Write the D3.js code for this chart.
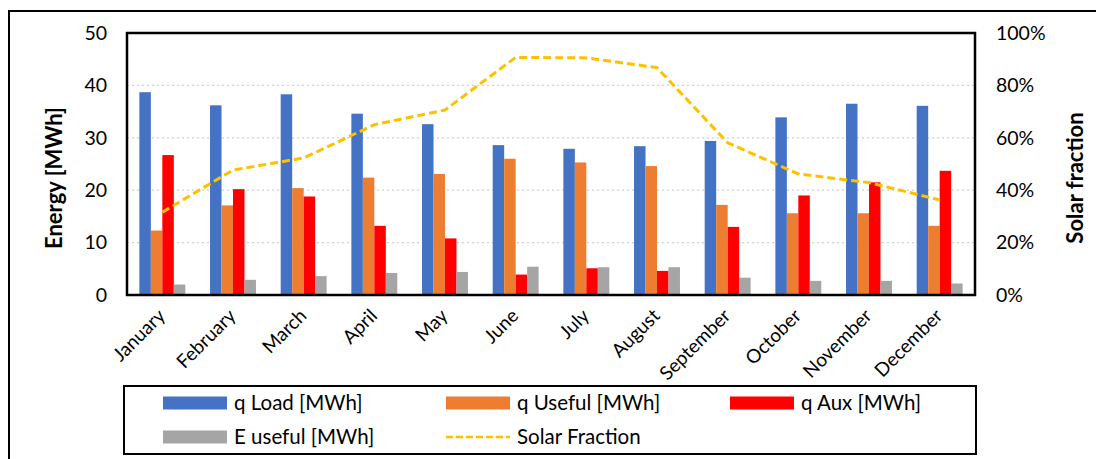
<!DOCTYPE html>
<html>
<head>
<meta charset="utf-8">
<script src="https://cdn.jsdelivr.net/npm/d3@7"></script>
<style>
  html, body { margin: 0; padding: 0; background: #fff; }
  svg { display: block; font-family: Lato, "Open Sans", sans-serif; }
</style>
</head>
<body>
<svg id="chart" width="1096" height="459"></svg>
<script>
// Monthly energy balance of the solar system
const months = ["January", "February", "March", "April", "May", "June",
                "July", "August", "September", "October", "November", "December"];
const qLoad   = [38.7, 36.2, 38.3, 34.6, 32.6, 28.6, 27.9, 28.4, 29.4, 33.9, 36.5, 36.1];
const qUseful = [12.3, 17.1, 20.4, 22.4, 23.1, 26.0, 25.3, 24.6, 17.2, 15.6, 15.6, 13.2];
const qAux    = [26.7, 20.2, 18.8, 13.2, 10.8,  3.9,  5.1,  4.6, 13.0, 19.0, 21.5, 23.7];
const eUseful = [ 2.0,  2.9,  3.6,  4.2,  4.4,  5.4,  5.3,  5.3,  3.3,  2.7,  2.7,  2.2];
const solarFraction = [0.316, 0.477, 0.523, 0.650, 0.706, 0.907, 0.905, 0.868, 0.581, 0.462, 0.429, 0.363];
const leftTicks  = [0, 10, 20, 30, 40, 50];
const rightTicks = [0, 0.2, 0.4, 0.6, 0.8, 1.0];

const seriesNames  = ["q Load [MWh]", "q Useful [MWh]", "q Aux [MWh]", "E useful [MWh]"];
const seriesValues = [qLoad, qUseful, qAux, eUseful];
const seriesColors = ["#4472C4", "#ED7D31", "#FF0000", "#A5A5A5"];
const lineName  = "Solar Fraction";
const lineColor = "#FFC000";

const svg = d3.select("#chart");
const plot = { left: 127, top: 33, right: 975, bottom: 295 };

// Outer frame
svg.append("rect")
  .attr("x", 9).attr("y", 11).attr("width", 1100).attr("height", 460)
  .attr("fill", "none").attr("stroke", "#000").attr("stroke-width", 2);

const x = d3.scaleBand().domain(months)
  .range([plot.left, plot.right]).paddingInner(0.35).paddingOuter(0.175);
const xs = d3.scaleBand().domain(d3.range(seriesNames.length))
  .range([0, x.bandwidth()]);
const y = d3.scaleLinear().domain([0, 50]).range([plot.bottom, plot.top]);
const y2 = d3.scaleLinear().domain([0, 1]).range([plot.bottom, plot.top]);

// Gridlines
svg.append("g")
  .selectAll("line")
  .data(leftTicks.filter(t => t > 0 && t < 50))
  .join("line")
  .attr("x1", plot.left).attr("x2", plot.right)
  .attr("y1", d => y(d)).attr("y2", d => y(d))
  .attr("stroke", "#d0d0d0").attr("stroke-width", 1.3)
  .attr("stroke-dasharray", "2,3");

// Bars
const groups = svg.append("g")
  .selectAll("g")
  .data(months)
  .join("g")
  .attr("transform", d => `translate(${x(d)},0)`);

groups.selectAll("rect")
  .data((m, i) => seriesValues.map((vals, s) => ({ s, v: vals[i] })))
  .join("rect")
  .attr("x", d => xs(d.s))
  .attr("width", xs.bandwidth())
  .attr("y", d => y(d.v))
  .attr("height", d => y(0) - y(d.v))
  .attr("fill", d => seriesColors[d.s]);

// Solar fraction line
const line = d3.line()
  .x((d, i) => x(months[i]) + x.bandwidth() / 2)
  .y(d => y2(d));
svg.append("path")
  .datum(solarFraction)
  .attr("d", line)
  .attr("fill", "none")
  .attr("stroke", lineColor)
  .attr("stroke-width", 3)
  .attr("stroke-dasharray", "8,4");

// Plot frame
svg.append("rect")
  .attr("x", plot.left).attr("y", plot.top)
  .attr("width", plot.right - plot.left).attr("height", plot.bottom - plot.top)
  .attr("fill", "none").attr("stroke", "#000").attr("stroke-width", 2.5);

// Left axis
const leftAxis = svg.append("g")
  .attr("transform", `translate(${plot.left - 20},0)`)
  .call(d3.axisLeft(y).tickValues(leftTicks).tickSize(0).tickPadding(0));
leftAxis.select(".domain").remove();
leftAxis.selectAll("text")
  .attr("font-size", 19.5).attr("font-family", "Lato, sans-serif").attr("fill", "#000");

// Right axis
const rightAxis = svg.append("g")
  .attr("transform", `translate(${plot.right + 21},0)`)
  .call(d3.axisRight(y2).tickValues(rightTicks).tickFormat(d3.format(".0%")).tickSize(0).tickPadding(0));
rightAxis.select(".domain").remove();
rightAxis.selectAll("text")
  .attr("font-size", 19.5).attr("font-family", "Lato, sans-serif").attr("fill", "#000");

// Month labels
const bottomAxis = svg.append("g")
  .attr("transform", `translate(0,${plot.bottom})`)
  .call(d3.axisBottom(x).tickSize(0).tickPadding(0));
bottomAxis.select(".domain").remove();
bottomAxis.selectAll("text")
  .attr("font-size", 19).attr("font-family", "Lato, sans-serif").attr("fill", "#000")
  .attr("text-anchor", "end")
  .attr("dy", null).attr("y", 0)
  .attr("transform", "translate(4,22) rotate(-45)");

// Axis titles
svg.append("text")
  .attr("transform", `translate(62,178) rotate(-90)`)
  .attr("text-anchor", "middle")
  .attr("font-size", 22).attr("font-weight", "bold")
  .text("Energy [MWh]");
svg.append("text")
  .attr("transform", `translate(1083,178) rotate(-90)`)
  .attr("text-anchor", "middle")
  .attr("font-size", 22).attr("font-weight", "bold")
  .text("Solar fraction");

// Legend
const legend = svg.append("g");
legend.append("rect")
  .attr("x", 124).attr("y", 386).attr("width", 852).attr("height", 68)
  .attr("fill", "#fff").attr("stroke", "#000").attr("stroke-width", 2);

const legendItems = [
  { name: seriesNames[0], color: seriesColors[0], type: "bar", x: 163, y: 403 },
  { name: seriesNames[1], color: seriesColors[1], type: "bar", x: 446, y: 403 },
  { name: seriesNames[2], color: seriesColors[2], type: "bar", x: 730, y: 403 },
  { name: seriesNames[3], color: seriesColors[3], type: "bar", x: 163, y: 437 },
  { name: lineName, color: lineColor, type: "line", x: 446, y: 437 }
];
const li = legend.selectAll("g.item")
  .data(legendItems)
  .join("g").attr("class", "item")
  .attr("transform", d => `translate(${d.x},${d.y})`);
li.filter(d => d.type === "bar").append("rect")
  .attr("x", 0).attr("y", -6.5).attr("width", 64).attr("height", 13)
  .attr("fill", d => d.color);
li.filter(d => d.type === "line").append("line")
  .attr("x1", 0).attr("x2", 64).attr("y1", 0).attr("y2", 0)
  .attr("stroke", d => d.color).attr("stroke-width", 2.5)
  .attr("stroke-dasharray", "7,3");
li.append("text")
  .attr("x", 71).attr("y", 0).attr("dy", "0.35em")
  .attr("font-size", 20.5)
  .text(d => d.name);
</script>
</body>
</html>
